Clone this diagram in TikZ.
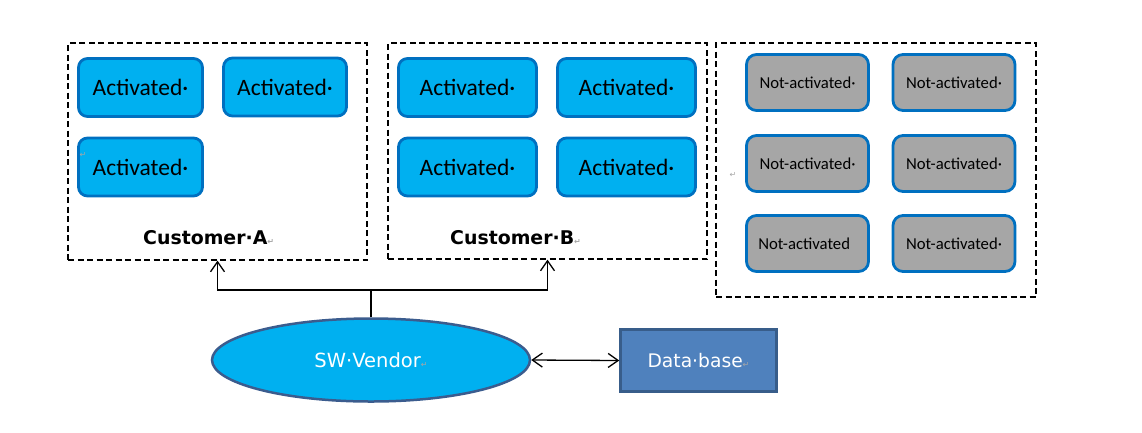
\documentclass[tikz,border=0pt]{standalone}
\usepackage{fontspec}
\setmainfont{Carlito}
\newfontfamily\dejavu{DejaVu Sans}
\usetikzlibrary{arrows.meta,shapes.geometric}

\definecolor{actfill}{HTML}{00B0F0}
\definecolor{actline}{HTML}{0070C0}
\definecolor{offfill}{HTML}{A6A6A6}
\definecolor{vendline}{HTML}{3B5C8E}
\definecolor{dbfill}{HTML}{4F81BD}
\definecolor{dbline}{HTML}{385D8A}
\newcommand{\pmark}{{\dejavu\fontsize{8}{8}\selectfont\color{gray!70}↵}}

\begin{document}
\begin{tikzpicture}[x=1pt,y=-1pt,>={Straight Barb[length=10pt,width=14pt]},
                    wire/.style={line width=1.3pt},
                    group/.style={draw,dash pattern=on 6pt off 3.5pt,line width=1.3pt,minimum width=#1},
                    active/.style={draw=actline,fill=actfill,line width=2.8pt,rounded corners=9pt,
                                   minimum height=58pt,font=\fontsize{23.5}{27}\selectfont},
                    inactive/.style={draw=actline,fill=offfill,line width=2.8pt,rounded corners=10pt,
                                   minimum width=122pt,minimum height=56pt,font=\fontsize{16.7}{20}\selectfont},
                    title/.style={anchor=base west,inner sep=0pt,font=\dejavu\bfseries\fontsize{18.9}{22}\selectfont}]

  \useasboundingbox (0,0) rectangle (1142,432);

  % customer groups and the pool
  \node[group=299pt,minimum height=217pt] (custA) at (217.5,151.5) {};
  \node[group=319pt,minimum height=216pt] (custB) at (547.5,151)   {};
  \node[group=320pt,minimum height=254pt] (pool)  at (876,170)     {};

  \node[title] (labA) at (143,244) {Customer·A\pmark};
  \node[title] (labB) at (450,244) {Customer·B\pmark};

  \node[active,minimum width=124pt] (a1) at (140.5,87.5) {Activated·};
  \node[active,minimum width=123pt] (a2) at (285,87)     {Activated·};
  \node[active,minimum width=124pt] (a3) at (140.5,167)  {Activated·};
  \node[inner sep=0pt] (markA) at (83,155) {\pmark};

  \node[active,minimum width=138pt] (b1) at (467.5,87.5) {Activated·};
  \node[active,minimum width=138pt] (b2) at (626.5,87.5) {Activated·};
  \node[active,minimum width=138pt] (b3) at (467.5,167)  {Activated·};
  \node[active,minimum width=138pt] (b4) at (626.5,167)  {Activated·};

  \node[inactive] (n1) at (807.5,82.5)  {Not-activated·};
  \node[inactive] (n2) at (954,82.5)    {Not-activated·};
  \node[inactive] (n3) at (807.5,163.5) {Not-activated·};
  \node[inactive] (n4) at (954,163.5)   {Not-activated·};
  \node[inactive] (n5) at (807.5,243.5) {Not-activated\pmark};
  \node[inactive] (n6) at (954,243.5)   {Not-activated·};
  \node[inner sep=0pt] (markP) at (733,175) {\pmark};

  % vendor and database
  \node[ellipse,draw=vendline,fill=actfill,line width=2.5pt,inner sep=0pt,
        minimum width=318pt,minimum height=83pt,text=white,
        font=\dejavu\fontsize{19.5}{23}\selectfont] (vendor) at (371,360) {SW·Vendor\pmark};
  \node[draw=dbline,fill=dbfill,line width=2.5pt,minimum width=156pt,minimum height=62pt,
        text=white,font=\dejavu\fontsize{18.7}{22}\selectfont] (db) at (698.5,360.5) {Data·base\pmark};

  \coordinate (split) at (371,290);

  \draw[wire]    (vendor.north) -- (split);
  \draw[wire,->] (split) -| (custA.south);
  \draw[wire,->] (split) -| (custB.south);
  \draw[wire,<->] (vendor.east) -- (db.west);

\end{tikzpicture}
\end{document}
